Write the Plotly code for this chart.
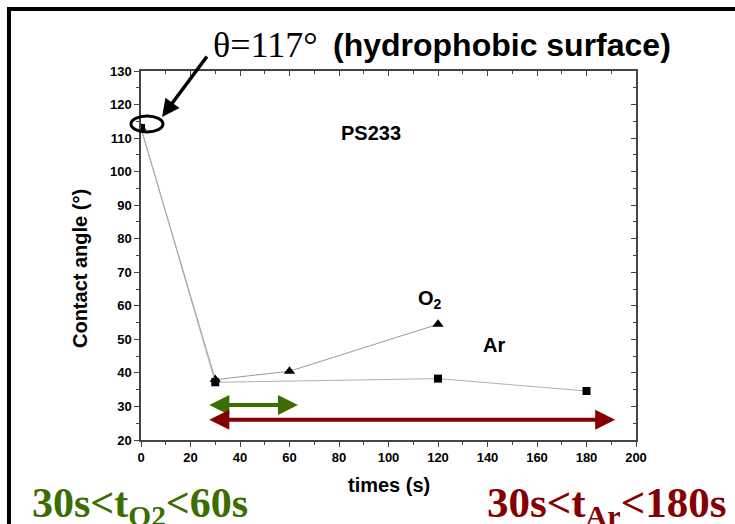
import plotly.graph_objects as go

# Data
o2_time = [0, 30, 60, 120]
o2_angle = [113, 38, 40.5, 54.5]
ar_time = [0, 30, 120, 180]
ar_angle = [113, 37.2, 38.3, 34.6]

x_ticks = [0, 20, 40, 60, 80, 100, 120, 140, 160, 180, 200]
y_ticks = [20, 30, 40, 50, 60, 70, 80, 90, 100, 110, 120, 130]

# Time ranges shown by the arrows
o2_range = [27, 63.4]
o2_arrow_y = 30.4
ar_range = [27, 191.6]
ar_arrow_y = 26

GREEN = "#3b6e00"
RED = "#850000"
SANS = "Liberation Sans, Arial, sans-serif"
SERIF = "Liberation Serif, Times New Roman, serif"

fig = go.Figure()
fig.add_trace(go.Scatter(
    x=o2_time, y=o2_angle, mode="lines+markers", name="O2",
    line=dict(color="#9a9a9a", width=1),
    marker=dict(symbol="triangle-up", size=10, color="black"),
))
fig.add_trace(go.Scatter(
    x=ar_time, y=ar_angle, mode="lines+markers", name="Ar",
    line=dict(color="#b0b0b0", width=1),
    marker=dict(symbol="square", size=8, color="black"),
))
# invisible trace to activate the mirrored (inside-tick) axes
fig.add_trace(go.Scatter(x=[0], y=[20], xaxis="x2", yaxis="y2",
                         mode="markers", marker=dict(opacity=0),
                         showlegend=False, hoverinfo="skip"))

axis_common = dict(showgrid=False, zeroline=False, linecolor="#444",
                   linewidth=1.5, tickcolor="#444", tickwidth=1.2)

fig.update_layout(
    width=735, height=524,
    margin=dict(l=141, r=99, t=71, b=84),
    paper_bgcolor="white", plot_bgcolor="white",
    showlegend=False,
    font=dict(family=SANS, color="black"),
    xaxis=dict(range=[0, 200], tickvals=x_ticks, ticks="outside", ticklen=5,
               minor=dict(dtick=10, ticks="outside", ticklen=3, tickcolor="#444"),
               tickfont=dict(size=13, family=SANS, weight="bold"),
               showline=True, **axis_common),
    yaxis=dict(range=[20, 130], tickvals=y_ticks, ticks="outside", ticklen=5,
               minor=dict(dtick=5, ticks="outside", ticklen=3, tickcolor="#444"),
               tickfont=dict(size=13, family=SANS, weight="bold"),
               showline=True, **axis_common),
    xaxis2=dict(range=[0, 200], overlaying="x", side="top", anchor="y",
                tickvals=x_ticks, ticks="inside", ticklen=5, showticklabels=False,
                minor=dict(dtick=10, ticks="inside", ticklen=3, tickcolor="#444"),
                showline=True, **axis_common),
    yaxis2=dict(range=[20, 130], overlaying="y", side="right", anchor="x",
                tickvals=y_ticks, ticks="inside", ticklen=5, showticklabels=False,
                minor=dict(dtick=5, ticks="inside", ticklen=3, tickcolor="#444"),
                showline=True, **axis_common),
)

ann = []
# Axis titles
ann.append(dict(text="<b>times (s)</b>", x=0.5, y=-0.122, xref="paper", yref="paper",
                showarrow=False, xanchor="center", yanchor="middle",
                font=dict(size=20, family=SANS)))
ann.append(dict(text="<b>Contact angle (°)</b>", x=-0.1232, y=0.4634, xref="paper", yref="paper",
                showarrow=False, textangle=-90, xanchor="center", yanchor="middle",
                font=dict(size=20, family=SANS)))
# In-plot labels
ann.append(dict(text="<b>PS233</b>", x=0.4646, y=0.867, xref="paper", yref="paper",
                showarrow=False, font=dict(size=20, family=SANS)))
ann.append(dict(text="<b>O<sub>2</sub></b>", x=0.5838, y=0.38, xref="paper", yref="paper",
                showarrow=False, font=dict(size=20, family=SANS)))
ann.append(dict(text="<b>Ar</b>", x=0.7394, y=0.2222, xref="paper", yref="paper",
                showarrow=False, font=dict(size=20, family=SANS)))
# Top title
ann.append(dict(text="θ=117°", x=0.1414, y=1.0705, xref="paper", yref="paper",
                showarrow=False, xanchor="left", yanchor="middle",
                font=dict(size=36, family=SERIF)))
ann.append(dict(text="<b>(hydrophobic surface)</b>", x=0.3839, y=1.0705, xref="paper", yref="paper",
                showarrow=False, xanchor="left", yanchor="middle",
                font=dict(size=32, family=SANS)))
# Pointer arrow to the initial point
ann.append(dict(text="", x=8.5, y=116.3, xref="x", yref="y", ax=46, ay=-62,
                showarrow=True, arrowhead=2, arrowsize=1, arrowwidth=3.5,
                arrowcolor="black", standoff=0))
# Bottom range labels
ann.append(dict(text="<b>30s&lt;t<sub>O2</sub>&lt;60s</b>", x=-0.2242, y=-0.18,
                xref="paper", yref="paper", showarrow=False, xanchor="left", yanchor="middle",
                font=dict(size=42, family=SERIF, color=GREEN)))
ann.append(dict(text="<b>30s&lt;t<sub>Ar</sub>&lt;180s</b>", x=1.1859, y=-0.18,
                xref="paper", yref="paper", showarrow=False, xanchor="right", yanchor="middle",
                font=dict(size=43, family=SERIF, color=RED)))
# Double-headed range arrows
ann.append(dict(text="", x=o2_range[1], y=o2_arrow_y, ax=o2_range[0], ay=o2_arrow_y,
                xref="x", yref="y", axref="x", ayref="y", showarrow=True,
                arrowhead=2, startarrowhead=2, arrowside="end+start", arrowsize=1,
                startarrowsize=1, arrowwidth=4, arrowcolor=GREEN, standoff=0, startstandoff=0))
ann.append(dict(text="", x=ar_range[1], y=ar_arrow_y, ax=ar_range[0], ay=ar_arrow_y,
                xref="x", yref="y", axref="x", ayref="y", showarrow=True,
                arrowhead=2, startarrowhead=2, arrowside="end+start", arrowsize=1,
                startarrowsize=1, arrowwidth=4, arrowcolor=RED, standoff=0, startstandoff=0))
fig.update_layout(annotations=ann)

# Ellipse around the initial point and outer frame
fig.add_shape(type="circle", xref="paper", yref="paper",
              x0=-0.0202, x1=0.0444, y0=0.8347, y1=0.878,
              line=dict(color="black", width=3))
fig.add_shape(type="rect", xref="paper", yref="paper",
              x0=-0.2667, x1=1.25, y0=-0.3, y1=1.168,
              line=dict(color="black", width=4))

fig.write_html(
    "out.html",
    config={"displayModeBar": False},
    post_script="document.body.style.margin='0';document.body.style.overflow='hidden';",
)
